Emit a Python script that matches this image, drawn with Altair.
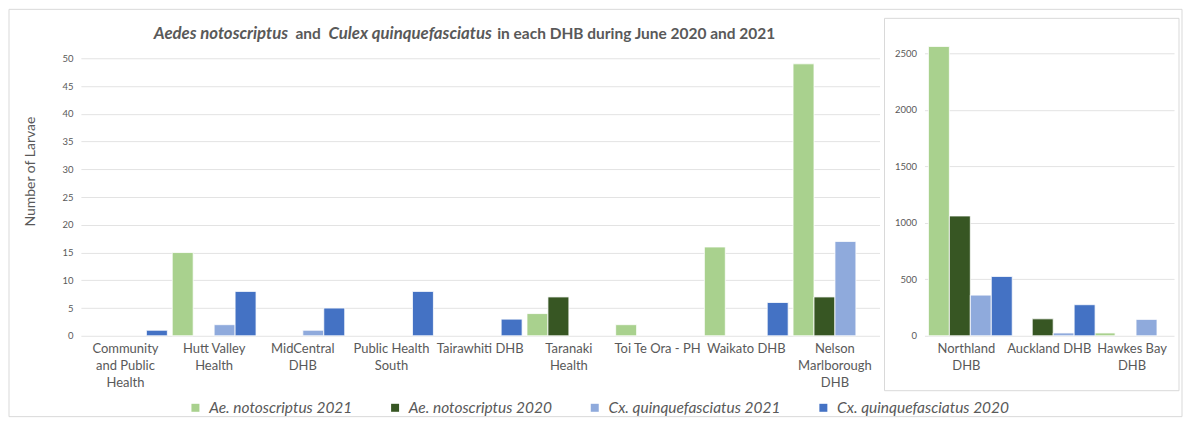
import altair as alt
import pandas as pd

# ---------------- data ----------------
series = ["Ae. notoscriptus 2021", "Ae. notoscriptus 2020",
          "Cx. quinquefasciatus 2021", "Cx. quinquefasciatus 2020"]
colors = ["#A9D18E", "#375623", "#8FAADC", "#4472C4"]

left_categories = ["Community|and Public|Health", "Hutt Valley|Health", "MidCentral|DHB",
                   "Public Health|South", "Tairawhiti DHB", "Taranaki|Health",
                   "Toi Te Ora - PH", "Waikato DHB", "Nelson|Marlborough|DHB"]
left_ae2021 = [0, 15, 0, 0, 0, 4, 2, 16, 49]
left_ae2020 = [0, 0, 0, 0, 0, 7, 0, 0, 7]
left_cx2021 = [0, 2, 1, 0, 0, 0, 0, 0, 17]
left_cx2020 = [1, 8, 5, 8, 3, 0, 0, 6, 0]

right_categories = ["Northland|DHB", "Auckland DHB", "Hawkes Bay|DHB"]
right_ae2021 = [2560, 0, 25]
right_ae2020 = [1060, 150, 0]
right_cx2021 = [360, 25, 145]
right_cx2020 = [525, 275, 0]

left_ticks = [0, 5, 10, 15, 20, 25, 30, 35, 40, 45, 50]
right_ticks = [0, 500, 1000, 1500, 2000, 2500]

title_parts = ["Aedes notoscriptus", "and", "Culex quinquefasciatus",
               "in each DHB during June 2020 and 2021"]


def long_frame(cats, cols):
    rows = []
    for s, vals in zip(series, cols):
        for c, v in zip(cats, vals):
            rows.append({"category": c, "series": s, "value": v})
    return pd.DataFrame(rows)


left_df = long_frame(left_categories, [left_ae2021, left_ae2020, left_cx2021, left_cx2020])
right_df = long_frame(right_categories, [right_ae2021, right_ae2020, right_cx2021, right_cx2020])

GRAY = "#595959"
FONT = "Lato"

color_enc = alt.Color("series:N", sort=series,
                      scale=alt.Scale(domain=series, range=colors),
                      legend=alt.Legend(title=None))


def x_axis():
    return alt.Axis(title=None, labelAngle=0, labelExpr="split(datum.label, '|')",
                    ticks=False, domain=False, labelFontSize=13, labelColor=GRAY,
                    labelPadding=7, labelLineHeight=17, labelBaseline="top",
                    labelFont=FONT, labelLimit=200)


# ---------------- left panel ----------------
left_bars = alt.Chart(left_df).transform_filter("datum.value > 0").mark_bar(
    stroke="white", strokeWidth=0.8
).encode(
    x=alt.X("category:N", sort=left_categories,
            scale=alt.Scale(paddingInner=0.055, paddingOuter=0.03), axis=x_axis()),
    xOffset=alt.XOffset("series:N", sort=series,
                        scale=alt.Scale(domain=series, paddingInner=0, paddingOuter=0)),
    y=alt.Y("value:Q", scale=alt.Scale(domain=[0, 53.6], nice=False, zero=True),
            axis=alt.Axis(values=left_ticks, title="Number of Larvae", grid=True,
                          gridColor="#e3e3e3", domain=False, ticks=False, format="d",
                          labelFontSize=9.5, labelColor=GRAY, labelPadding=8,
                          labelFont=FONT, titleFont=FONT, titleFontSize=14,
                          titleFontWeight="normal", titleColor=GRAY,
                          titleX=-50, titleY=133, titleAlign="center",
                          titleBaseline="middle")),
    color=color_enc,
)

one = pd.DataFrame({"k": [0]})
outer_border = alt.Chart(one).mark_rect(
    fillOpacity=0, stroke="#d9d9d9", strokeWidth=1
).encode(x=alt.value(-72), x2=alt.value(1103), y=alt.value(-29), y2=alt.value(379))

title_x = [73, 215, 248, 417]
title_italic = [True, False, True, False]
title_layers = []
for txt, tx, it in zip(title_parts, title_x, title_italic):
    title_layers.append(
        alt.Chart(one).mark_text(
            text=txt, align="left", baseline="middle", font=FONT,
            fontSize=16.8 if it else 15.5,
            fontWeight="bold", fontStyle="italic" if it else "normal", color=GRAY
        ).encode(x=alt.value(tx), y=alt.value(-4))
    )

left = alt.layer(outer_border, left_bars, *title_layers).properties(width=800, height=298)

# ---------------- right panel ----------------
right_bars = alt.Chart(right_df).transform_filter("datum.value > 0").mark_bar(
    stroke="white", strokeWidth=0.8
).encode(
    x=alt.X("category:N", sort=right_categories,
            scale=alt.Scale(paddingInner=0.084, paddingOuter=0.048), axis=x_axis()),
    xOffset=alt.XOffset("series:N", sort=series,
                        scale=alt.Scale(domain=series, paddingInner=0, paddingOuter=0)),
    y=alt.Y("value:Q", scale=alt.Scale(domain=[0, 2632], nice=False, zero=True),
            axis=alt.Axis(values=right_ticks, title=None, grid=True, format="d",
                          gridColor="#e3e3e3", domain=False, ticks=False,
                          labelFontSize=9.5, labelColor=GRAY, labelPadding=8,
                          labelFont=FONT)),
    color=color_enc,
)

panel_border = alt.Chart(one).mark_rect(
    fillOpacity=0, stroke="#d9d9d9", strokeWidth=1
).encode(x=alt.value(-40), x2=alt.value(255), y=alt.value(-20), y2=alt.value(353))

right = alt.layer(panel_border, right_bars).properties(width=250, height=298)

chart = alt.hconcat(left, right, spacing=45, bounds="flush").resolve_scale(
    color="shared"
).configure(
    padding={"left": 0, "top": 0, "right": 0, "bottom": 0},
    font=FONT,
).configure_view(
    stroke=None
).configure_legend(
    orient="none", legendX=107, legendY=362, direction="horizontal", columns=4,
    gridAlign="each", symbolType="square", symbolSize=64, symbolStrokeWidth=0,
    labelFont=FONT, labelFontSize=15.5, labelFontStyle="italic", labelColor=GRAY,
    labelOffset=6, columnPadding=35, labelLimit=400
)

chart.save("out.html", embed_options={"renderer": "svg", "actions": False})
